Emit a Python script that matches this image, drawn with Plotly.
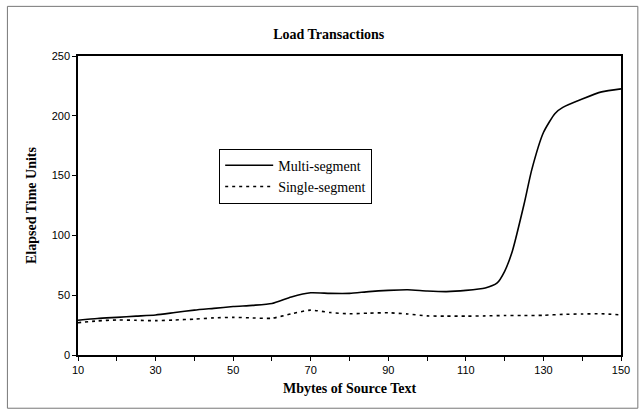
import plotly.graph_objects as go

# -----------------------------------------------------------------------------
# Data
# -----------------------------------------------------------------------------

mbytes_multi = [10, 15, 20, 25, 30, 35, 40, 45, 50, 55, 60, 65, 70, 75, 80, 85,
                90, 95, 100, 105, 110, 115, 118, 120, 122, 125, 127, 130, 133,
                135, 140, 145, 150]
multi_segment = [29, 30.5, 31.5, 32.5, 33.5, 35.5, 37.5, 39, 40.5, 41.5, 43,
                 48.5, 52, 51.5, 51.5, 53, 54, 54.5, 53.5, 53, 54, 56, 60, 70,
                 87, 126, 155, 186, 202, 207, 214, 220, 222.5]

mbytes_single = [10, 15, 20, 25, 30, 35, 40, 45, 50, 55, 60, 65, 70, 75, 80, 85,
                 90, 95, 100, 105, 110, 115, 120, 125, 130, 135, 140, 145, 150]
single_segment = [27, 28.5, 29.3, 29, 28.7, 29.3, 30, 31, 31.5, 31, 30.7, 34.5,
                  37.5, 35.5, 34.5, 35, 35.3, 34.3, 32.7, 32.5, 32.5, 32.7, 33,
                  33, 33.2, 34, 34.3, 34.5, 33.5]

x_ticks = list(range(10, 151, 10))
x_tick_text = [str(v) if (v - 10) % 20 == 0 else "" for v in x_ticks]

SERIF = "Liberation Serif, Times New Roman, serif"
SANS = "Liberation Sans, Arial, sans-serif"

# -----------------------------------------------------------------------------
# Figure
# -----------------------------------------------------------------------------

fig = go.Figure()

fig.add_trace(go.Scatter(
    x=mbytes_multi, y=multi_segment,
    name="Multi-segment",
    mode="lines",
    line=dict(color="black", width=1.6, shape="spline", smoothing=0.6),
))

fig.add_trace(go.Scatter(
    x=mbytes_single, y=single_segment,
    name="Single-segment",
    mode="lines",
    line=dict(color="black", width=1.6, shape="spline", smoothing=0.6,
              dash="3px,4px"),
))

fig.update_layout(
    width=642, height=409,
    margin=dict(l=78, r=19, t=56, b=54),
    paper_bgcolor="white",
    plot_bgcolor="white",
    showlegend=True,
    title=dict(
        text="<b>Load Transactions</b>",
        font=dict(family=SERIF, size=14, color="black"),
        x=0.512, xanchor="center",
        y=1 - 34 / 409, yanchor="middle", yref="container",
    ),
    legend=dict(
        x=0.26, y=0.69, xanchor="left", yanchor="top",
        bgcolor="white", bordercolor="black", borderwidth=1,
        font=dict(family=SERIF, size=14, color="black"),
        itemwidth=48,
        tracegroupgap=0,
    ),
    xaxis=dict(
        range=[10, 150],
        tickmode="array", tickvals=x_ticks, ticktext=x_tick_text,
        ticks="outside", ticklen=4, tickcolor="black", tickwidth=1,
        showline=True, linecolor="black", linewidth=1.5, mirror=True,
        showgrid=False, zeroline=False,
        tickfont=dict(family=SANS, size=11, color="black"),
        title=dict(text="<b>Mbytes of Source Text</b>",
                   font=dict(family=SERIF, size=14, color="black"),
                   standoff=8),
    ),
    yaxis=dict(
        range=[0, 250], dtick=50,
        ticks="outside", ticklen=4, tickcolor="black", tickwidth=1,
        showline=True, linecolor="black", linewidth=1.5, mirror=True,
        showgrid=False, zeroline=False,
        tickfont=dict(family=SANS, size=11, color="black"),
        title=dict(text="<b>Elapsed Time Units</b>",
                   font=dict(family=SERIF, size=14, color="black"),
                   standoff=12),
    ),
)

# outer frame round the whole chart
fig.add_shape(
    type="rect", xref="paper", yref="paper",
    x0=-0.130, x1=1.031, y0=-0.178, y1=1.166,
    line=dict(color="#777777", width=1),
    layer="below",
)

# drop the page's default body margin so the chart sits at the window's corner
fig.write_html("out.html",
               config={"displayModeBar": False},
               post_script="document.body.style.margin='0';")
